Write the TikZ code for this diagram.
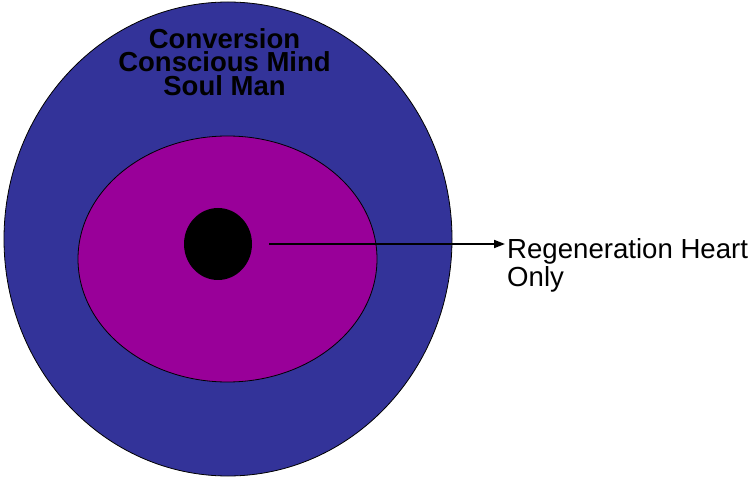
\documentclass[tikz,border=0pt]{standalone}
\usepackage{fontspec}
\setmainfont{Liberation Sans}
\usetikzlibrary{arrows.meta,shapes.geometric}
\definecolor{ringOuter}{HTML}{333399}
\definecolor{ringInner}{HTML}{990099}
\tikzset{
    ring/.style={ellipse,draw=black,line width=0.8pt,inner sep=0pt},
    core/.style={ellipse,fill=black,inner sep=0pt,minimum width=68pt,minimum height=72pt},
    pointer/.style={-{Triangle[length=11pt,width=8pt]},line width=1.8pt},
    heading/.style={font=\fontsize{27.5}{23.8}\selectfont\bfseries,align=center,inner sep=0pt},
    caption/.style={font=\fontsize{27.6}{28}\selectfont,align=left,inner sep=0pt}
}
\begin{document}
\begin{tikzpicture}[x=1pt,y=-1pt]
    \useasboundingbox (0,0) rectangle (752,478);

    % Rings
    \node[ring,fill=ringOuter,minimum width=448pt,minimum height=474pt] (outer) at (228,239) {};
    \node[ring,fill=ringInner,minimum width=299pt,minimum height=246pt] (inner) at (227.5,259) {};
    \node[core] (core) at (218,244) {};

    % Texts
    \node[heading,anchor=north] (soul) at (224.5,28) {Conversion\\Conscious Mind\\Soul Man};
    \node[caption,anchor=north west] (label) at (507,238) {Regeneration Heart\\Only};

    % Arrow
    \draw[pointer,shorten <=17pt,shorten >=2pt] (core.east) -- (core.east -| label.west);
\end{tikzpicture}
\end{document}
